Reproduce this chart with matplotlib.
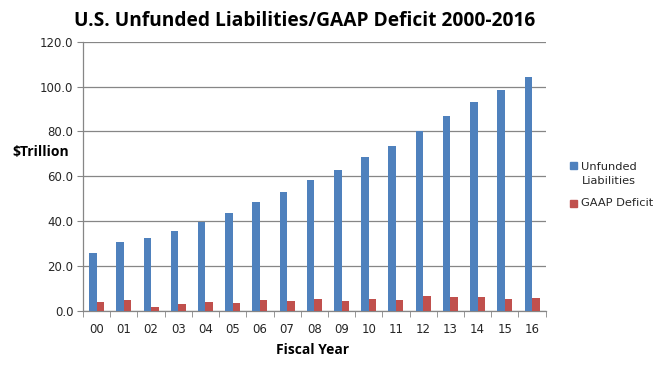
import numpy as np
import matplotlib
matplotlib.use('Agg')
import matplotlib.pyplot as plt
from matplotlib.patches import Rectangle

years = ['00', '01', '02', '03', '04', '05', '06', '07', '08',
         '09', '10', '11', '12', '13', '14', '15', '16']
unfunded = [25.8, 30.7, 32.5, 35.6, 39.8, 43.7, 48.6, 53.0, 58.4,
            62.8, 68.6, 73.5, 80.2, 86.9, 93.1, 98.5, 104.3]
gaap = [4.0, 4.9, 1.8, 3.1, 4.0, 3.6, 4.9, 4.5, 5.3,
        4.5, 5.3, 4.9, 6.7, 6.2, 6.2, 5.3, 5.8]

blue = '#4F81BD'
red = '#C0504D'
grid_col = '#868686'
txt_col = '#262626'
tick_font = 'DejaVu Sans'
bold_font = 'Open Sans'

fig = plt.figure(figsize=(6.63, 3.80), dpi=100)
ax = fig.add_axes([0.1252, 0.1816, 0.6978, 0.7087])

x = np.arange(len(years))
w = 0.275
ax.bar(x - w / 2, unfunded, w, color=blue, zorder=3)
ax.bar(x + w / 2, gaap, w, color=red, zorder=3)

ax.set_xlim(-0.5, len(years) - 0.5)
ax.set_ylim(0, 120)
ax.set_yticks(np.arange(0, 121, 20))
ax.set_yticklabels(['%.1f' % v for v in np.arange(0, 121, 20)],
                   fontsize=8.5, family=tick_font, color=txt_col)
ax.yaxis.grid(True, color=grid_col, linewidth=0.9, zorder=0)

ax.set_xticks(x)
ax.set_xticklabels(years, fontsize=8.5, family=tick_font, color=txt_col)
ax.set_xticks(np.arange(-0.5, len(years), 1), minor=True)
ax.tick_params(axis='x', which='major', length=0, pad=9)
ax.tick_params(axis='x', which='minor', length=4, color=grid_col, direction='out')
ax.tick_params(axis='y', length=4, color=grid_col, direction='out', pad=3)

for s in ['top', 'right']:
    ax.spines[s].set_visible(False)
for s in ['left', 'bottom']:
    ax.spines[s].set_color(grid_col)
    ax.spines[s].set_linewidth(0.9)

fig.text(0.459, 0.945, 'U.S. Unfunded Liabilities/GAAP Deficit 2000-2016',
         ha='center', va='center', fontsize=13.8, fontweight='bold',
         family=bold_font)
fig.text(0.061, 0.600, '$Trillion', ha='center', va='center', fontsize=10,
         fontweight='bold', family=bold_font)
fig.text(0.472, 0.079, 'Fiscal Year', ha='center', va='center', fontsize=10,
         fontweight='bold', family=bold_font)

# legend drawn by hand so the blue key sits beside the first line
legend_items = [(blue, 'Unfunded\nLiabilities', 0.555, 0.542),
                (red, 'GAAP Deficit', 0.455, 0.465)]
for col, label, sq_y, txt_y in legend_items:
    fig.patches.append(Rectangle((0.860, sq_y), 0.0106, 0.0184, color=col,
                                 transform=fig.transFigure, figure=fig))
    fig.text(0.877, txt_y, label, ha='left', va='center',
             fontsize=8.2, family=tick_font, color=txt_col, linespacing=1.45)

fig.savefig('out.png', dpi=100)
